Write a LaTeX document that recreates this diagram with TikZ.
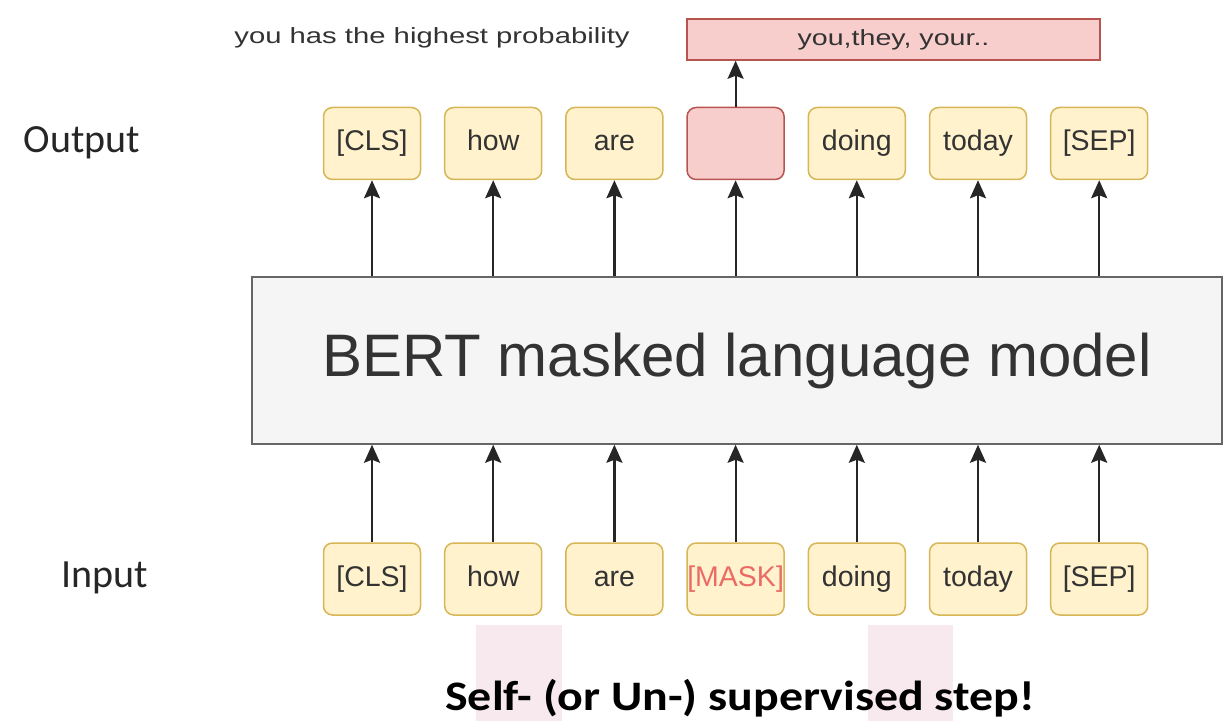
\documentclass[tikz,border=0pt]{standalone}
\usepackage{fontspec}
\setmainfont{Liberation Sans}
\newfontfamily\calibrifont{Carlito}
\usetikzlibrary{arrows.meta}
\definecolor{tokfill}{HTML}{FFF2CC}
\definecolor{tokline}{HTML}{D6B656}
\definecolor{redfill}{HTML}{F8CECC}
\definecolor{redline}{HTML}{B85450}
\definecolor{bertfill}{HTML}{F5F5F5}
\definecolor{bertline}{HTML}{666666}
\definecolor{masktext}{HTML}{EA6B66}
\definecolor{txt}{HTML}{333333}
\definecolor{hilite}{HTML}{F7E9EE}
\begin{document}
\begin{tikzpicture}[x=1pt,y=1pt,
  token/.style={draw=tokline, fill=tokfill, line width=1.5pt, rounded corners=9pt,
    minimum width=97pt, minimum height=72pt, inner sep=0pt, text=txt,
    text height=21pt, text depth=6pt,
    font=\fontsize{28.5}{31}\selectfont},
  redtoken/.style={token, draw=redline, fill=redfill},
  arr/.style={line width=2.2pt, draw=black!85,
    -{Stealth[length=18pt,width=16pt,inset=3pt]}},
  sidelabel/.style={text=black!85, font=\calibrifont\fontsize{40}{44}\selectfont},
]
\useasboundingbox (0,0) rectangle (1228,721);

% light highlight bands behind the caption
\fill[hilite] (476,0) rectangle (562,96);
\fill[hilite] (868,0) rectangle (953,96);

% model block
\node[draw=bertline, fill=bertfill, line width=1.5pt, minimum width=970pt,
      minimum height=167pt, inner sep=0pt, text=txt,
      font=\fontsize{60}{66}\selectfont] (bert) at (737,360.5) {BERT masked language model};

% input tokens
\node[token] (in1) at (372,142) {[CLS]};
\node[token] (in2) at (493.2,142) {how};
\node[token] (in3) at (614.4,142) {are};
\node[token, text=masktext] (in4) at (735.6,142) {[MASK]};
\node[token] (in5) at (856.8,142) {doing};
\node[token] (in6) at (978,142) {today};
\node[token] (in7) at (1099.2,142) {[SEP]};

% output tokens
\node[token] (out1) at (372,577.5) {[CLS]};
\node[token] (out2) at (493.2,577.5) {how};
\node[token] (out3) at (614.4,577.5) {are};
\node[redtoken] (out4) at (735.6,577.5) {};
\node[token] (out5) at (856.8,577.5) {doing};
\node[token] (out6) at (978,577.5) {today};
\node[token] (out7) at (1099.2,577.5) {[SEP]};

% candidate words for the masked position
\node[draw=redline, fill=redfill, line width=1.5pt, minimum width=413pt,
      minimum height=41pt, inner sep=0pt, text=txt] (probs) at (893.5,681.5)
      {\fontsize{22}{25}\selectfont\scalebox{1.3}[1]{you,they, your..}};
\node[text=txt] (note) at (432,683)
      {\fontsize{22}{25}\selectfont\scalebox{1.33}[1]{you has the highest probability}};

% row labels
\node[sidelabel] (outlbl) at (82,578) {Output};
\node[sidelabel] (inlbl) at (105,143) {Input};

% connectors
\foreach \i in {1,...,7}{
  \draw[arr] (in\i.north) -- (in\i.north |- bert.south);
  \draw[arr] (bert.north -| out\i.south) -- (out\i.south);
}
\draw[arr] (out4.north) -- (out4.north |- probs.south);

% caption
\node[anchor=base, font=\calibrifont\bfseries\fontsize{42}{46}\selectfont] (caption)
      at (740,11) {\scalebox{1.14}[1]{Self- (or Un-) supervised step!}};
\end{tikzpicture}
\end{document}
